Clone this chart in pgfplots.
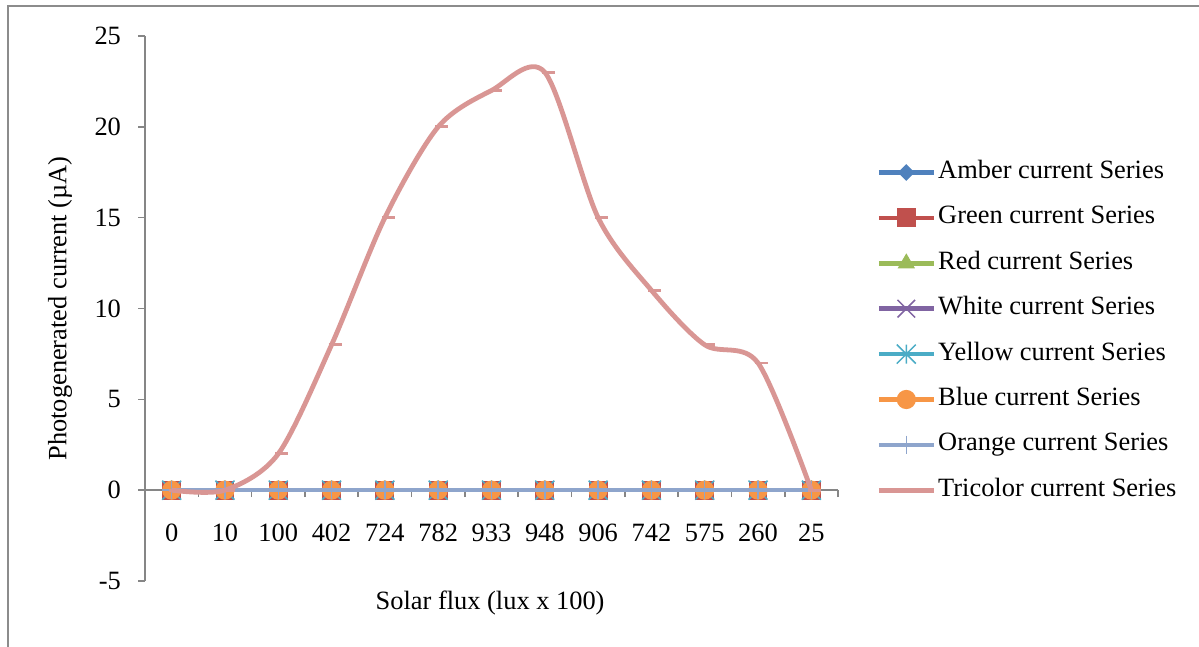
\documentclass[border=0pt]{standalone}
\usepackage{pgfplots}
\pgfplotsset{compat=1.18}
\usepackage{fontspec}
\setmainfont{Liberation Serif}

\definecolor{cAmber}{RGB}{79,129,189}
\definecolor{cGreen}{RGB}{192,80,77}
\definecolor{cRed}{RGB}{155,187,89}
\definecolor{cWhite}{RGB}{128,100,162}
\definecolor{cYellow}{RGB}{75,172,198}
\definecolor{cBlue}{RGB}{247,150,70}
\definecolor{cOrange}{RGB}{142,165,204}
\definecolor{cTri}{RGB}{217,150,148}
\definecolor{axisgray}{RGB}{134,134,134}
\definecolor{framegray}{RGB}{140,140,140}

\newcommand{\chartfont}{\fontsize{13.2}{15.8}\selectfont}

% cross with a vertical bar (asterisk-like mark)
\pgfdeclareplotmark{xbar}{%
  \pgfpathmoveto{\pgfqpoint{-\pgfplotmarksize}{-\pgfplotmarksize}}%
  \pgfpathlineto{\pgfqpoint{\pgfplotmarksize}{\pgfplotmarksize}}%
  \pgfpathmoveto{\pgfqpoint{-\pgfplotmarksize}{\pgfplotmarksize}}%
  \pgfpathlineto{\pgfqpoint{\pgfplotmarksize}{-\pgfplotmarksize}}%
  \pgfpathmoveto{\pgfqpoint{0pt}{-\pgfplotmarksize}}%
  \pgfpathlineto{\pgfqpoint{0pt}{\pgfplotmarksize}}%
  \pgfusepathqstroke}
% plain diagonal cross
\pgfdeclareplotmark{xcross}{%
  \pgfpathmoveto{\pgfqpoint{-\pgfplotmarksize}{-\pgfplotmarksize}}%
  \pgfpathlineto{\pgfqpoint{\pgfplotmarksize}{\pgfplotmarksize}}%
  \pgfpathmoveto{\pgfqpoint{-\pgfplotmarksize}{\pgfplotmarksize}}%
  \pgfpathlineto{\pgfqpoint{\pgfplotmarksize}{-\pgfplotmarksize}}%
  \pgfusepathqstroke}
% short dash, set to the right of the point
\pgfdeclareplotmark{rdash}{%
  \pgfpathmoveto{\pgfqpoint{-0.3\pgfplotmarksize}{0pt}}%
  \pgfpathlineto{\pgfqpoint{\pgfplotmarksize}{0pt}}%
  \pgfusepathqstroke}

\pgfplotstableread{
x y
0 0
1 0
2 0
3 0
4 0
5 0
6 0
7 0
8 0
9 0
10 0
11 0
12 0
}\zeroseries

\pgfplotstableread{
x y
0 0
1 0
2 2
3 8
4 15
5 20
6 22
7 23
8 15
9 11
10 8
11 7
12 0
}\triseries

\begin{document}
\begin{tikzpicture}
\begin{scope}[x=0.5pt,y=0.5pt]
  \useasboundingbox (0,0) rectangle (1199,647);
  \draw[framegray, line width=1.1pt] (8,-30) -- (8,641) -- (1240,641);
\end{scope}
\begin{axis}[
  set layers=standard,
  clip mode=individual,
  at={(72.5pt,33pt)}, anchor=south west,
  scale only axis, width=346.5pt, height=272.5pt,
  xmin=-0.5, xmax=12.5, ymin=-5, ymax=25,
  axis y line=left, axis x line=middle,
  axis line style={-, draw=axisgray, line width=0.8pt},
  hide obscured x ticks=false, hide obscured y ticks=false,
  ytick={-5,0,...,25},
  yticklabels={-5,0,5,10,15,20,25},
  xtick={-0.5,0.5,...,12.5}, xticklabels={},
  extra x ticks={0,...,12},
  extra x tick labels={0,10,100,402,724,782,933,948,906,742,575,260,25},
  extra x tick style={major tick length=0pt},
  tick align=outside,
  major tick length=3.5pt,
  tick style={draw=axisgray, line width=0.8pt},
  tick label style={font=\chartfont},
  xticklabel style={text height=9pt, text depth=0pt, anchor=north, yshift=-13pt},
  yticklabel style={xshift=-5pt},
  label style={font=\chartfont},
  xlabel={Solar flux (lux x 100)},
  ylabel={Photogenerated current (µA)},
  xlabel style={at={(axis description cs:0.498,-0.040)}, anchor=center},
  ylabel style={at={(axis description cs:-0.1227,0.5)}, anchor=center, rotate=0},
  legend cell align=left,
  legend style={at={(axis description cs:1.0462,0.4580)}, anchor=west,
    draw=none, fill=none, font=\chartfont, row sep=10.7pt,
    nodes={inner xsep=1.0pt, inner ysep=0pt, text height=9pt, text depth=3pt}},
  legend image code/.code={
    \draw[mark repeat=2,mark phase=2]
      plot coordinates {(0pt,0pt)(13.75pt,0pt)(27.5pt,0pt)};
  },
]
\addplot[cAmber, line width=2.3pt, mark=square*, mark size=2.65pt,
  mark options={solid, rotate=45, line width=0.6pt, draw=cAmber, fill=cAmber}]
  table[x=x,y=y] {\zeroseries};
\addlegendentry{Amber current Series}
\addplot[cGreen, line width=2.3pt, mark=square*, mark size=4.4pt,
  mark options={solid, line width=0.6pt, draw=cGreen, fill=cGreen}]
  table[x=x,y=y] {\zeroseries};
\addlegendentry{Green current Series}
\addplot[cRed, line width=2.3pt, mark=triangle*, mark size=4.4pt,
  mark options={solid, line width=0.6pt, draw=cRed, fill=cRed}]
  table[x=x,y=y] {\zeroseries};
\addlegendentry{Red current Series}
\addplot[cWhite, line width=2.3pt, mark=xcross, mark size=4.4pt,
  mark options={solid, line width=0.75pt}]
  table[x=x,y=y] {\zeroseries};
\addlegendentry{White current Series}
\addplot[cYellow, line width=2.3pt, mark=xbar, mark size=4.75pt,
  mark options={solid, line width=0.75pt}]
  table[x=x,y=y] {\zeroseries};
\addlegendentry{Yellow current Series}
\addplot[cBlue, line width=2.3pt, mark=*, mark size=4.5pt,
  mark options={solid, line width=0.6pt, draw=cBlue, fill=cBlue}]
  table[x=x,y=y] {\zeroseries};
\addlegendentry{Blue current Series}
\addplot[cOrange, line width=2.3pt, mark=+, mark size=4.6pt,
  mark options={solid, line width=0.75pt}]
  table[x=x,y=y] {\zeroseries};
\addlegendentry{Orange current Series}
\addplot[cTri, line width=2.4pt, smooth, tension=0.5, mark=rdash, mark size=5pt,
  mark options={solid, line width=1.4pt}]
  table[x=x,y=y] {\triseries};
\addlegendentry{Tricolor current Series}
\end{axis}
\end{tikzpicture}
\end{document}
